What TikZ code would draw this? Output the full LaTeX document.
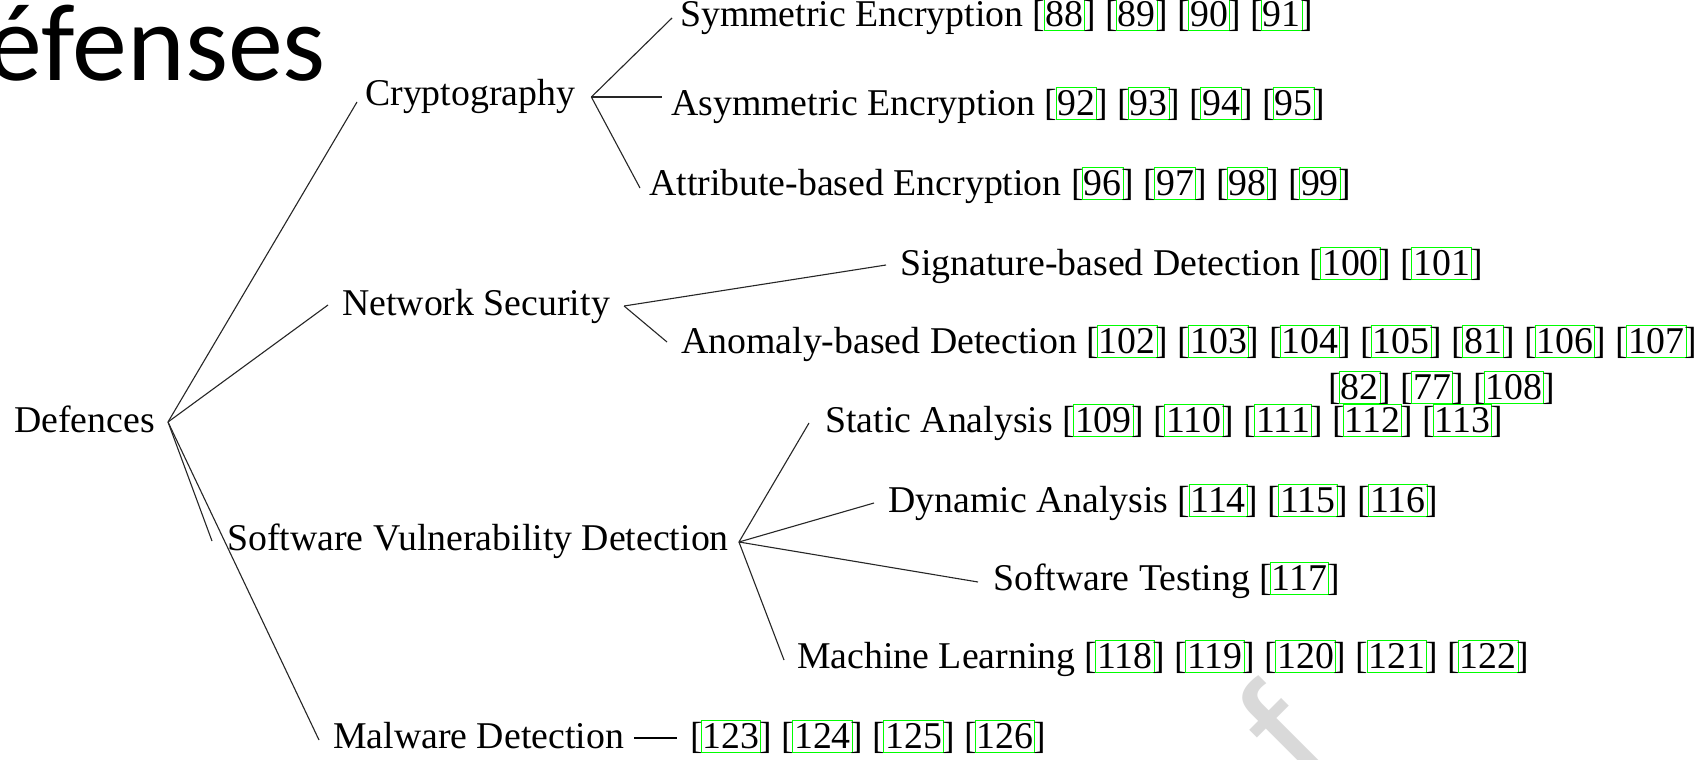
\documentclass[tikz,border=0pt]{standalone}
\usepackage{fontspec}
\setmainfont{Liberation Serif}
\newfontfamily\titlefont{Carlito}
\newfontfamily\wmfont{Liberation Sans}
\definecolor{linkgreen}{RGB}{0,255,0}
\setlength{\fboxsep}{1pt}
\setlength{\fboxrule}{1pt}
% citation with a green link border around the number
\newcommand\rf[1]{[{\color{linkgreen}\kern-2pt\fbox{\color{black}\rule[-2.5pt]{0pt}{29pt}#1}\kern-2pt}]}

\begin{document}
\begin{tikzpicture}[x=1pt,y=-1pt,
  lbl/.style={anchor=base west, inner sep=0pt, font=\fontsize{37.8}{44}\selectfont},
  branch/.style={draw=black!85, line width=1.1pt}]
\fill[white] (0,0) rectangle (1708,760);
\useasboundingbox (0,0) rectangle (1708,760);

% watermark fragment
\node[rotate=45, text=black!15, inner sep=0pt,
      font=\wmfont\fontsize{170}{170}\selectfont] (wm) at (1285,735) {f};

% slide title
\node[anchor=base east, inner sep=0pt, font=\titlefont\fontsize{110}{110}\selectfont]
  (title) at (326,81) {Défenses};

% tree nodes
\node[lbl] (root) at (14,432) {Defences};
\node[lbl] (crypt) at (365,105) {Cryptography};
\node[lbl] (net) at (342,315) {Network Security};
\node[lbl] (svd) at (227,550) {Software Vulnerability Detection};
\node[lbl] (mal) at (333,748) {Malware Detection};
\node[lbl] (malrefs) at (690,748) {\rf{123} \rf{124} \rf{125} \rf{126}};

\node[lbl] (sym) at (680,27) {Symmetric Encryption \rf{88} \rf{89} \rf{90} \rf{91}};
\node[lbl] (asym) at (671,115) {Asymmetric Encryption \rf{92} \rf{93} \rf{94} \rf{95}};
\node[lbl] (attr) at (649,195) {Attribute-based Encryption \rf{96} \rf{97} \rf{98} \rf{99}};

\node[lbl] (sig) at (900,275) {Signature-based Detection \rf{100} \rf{101}};
\node[lbl] (anom) at (681,353) {Anomaly-based Detection \rf{102} \rf{103} \rf{104} \rf{105} \rf{81} \rf{106} \rf{107}};
\node[lbl] (anomb) at (1328,399) {\rf{82} \rf{77} \rf{108}};

\node[lbl] (stat) at (825,432) {Static Analysis \rf{109} \rf{110} \rf{111} \rf{112} \rf{113}};
\node[lbl] (dyn) at (888,512) {Dynamic Analysis \rf{114} \rf{115} \rf{116}};
\node[lbl] (test) at (993,590) {Software Testing \rf{117}};
\node[lbl] (ml) at (797,668) {Machine Learning \rf{118} \rf{119} \rf{120} \rf{121} \rf{122}};

% branches from the root
\draw[branch] ([shift={(13pt,10pt)}]root.base east) -- ([shift={(-8pt,3pt)}]crypt.base west);
\draw[branch] ([shift={(13pt,10pt)}]root.base east) -- ([shift={(-14pt,10pt)}]net.base west);
\draw[branch] ([shift={(13pt,10pt)}]root.base east) -- ([shift={(-15pt,9pt)}]svd.base west);
\draw[branch] ([shift={(13pt,10pt)}]root.base east) -- ([shift={(-14pt,8pt)}]mal.base west);

% cryptography
\draw[branch] ([shift={(16pt,8pt)}]crypt.base east) -- ([shift={(-8pt,9pt)}]sym.base west);
\draw[branch] ([shift={(16pt,8pt)}]crypt.base east) -- ([shift={(-9pt,18pt)}]asym.base west);
\draw[branch] ([shift={(16pt,8pt)}]crypt.base east) -- ([shift={(-9pt,7pt)}]attr.base west);

% network security
\draw[branch] ([shift={(14pt,9pt)}]net.base east) -- ([shift={(-14pt,10pt)}]sig.base west);
\draw[branch] ([shift={(14pt,9pt)}]net.base east) -- ([shift={(-14pt,11pt)}]anom.base west);

% software vulnerability detection
\draw[branch] ([shift={(10pt,8pt)}]svd.base east) -- ([shift={(-16pt,9pt)}]stat.base west);
\draw[branch] ([shift={(10pt,8pt)}]svd.base east) -- ([shift={(-14pt,9pt)}]dyn.base west);
\draw[branch] ([shift={(10pt,8pt)}]svd.base east) -- ([shift={(-15pt,8pt)}]test.base west);
\draw[branch] ([shift={(10pt,8pt)}]svd.base east) -- ([shift={(-13pt,8pt)}]ml.base west);

% malware detection
\draw[black, line width=1.6pt] ([shift={(10pt,10pt)}]mal.base east) -- ([shift={(-13pt,10pt)}]malrefs.base west);
\end{tikzpicture}
\end{document}
